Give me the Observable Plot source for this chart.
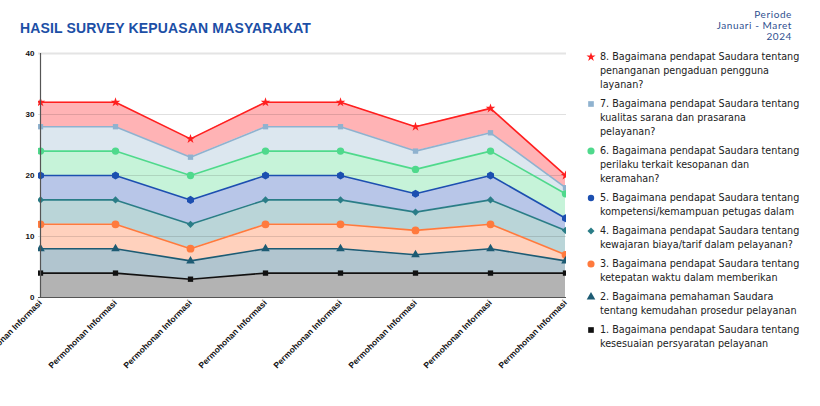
<!DOCTYPE html>
<html>
<head>
<meta charset="utf-8">
<script src="https://cdn.jsdelivr.net/npm/d3@7"></script>
<script src="https://cdn.jsdelivr.net/npm/@observablehq/plot@0.6"></script>
<style>
  html, body { margin: 0; padding: 0; background: #fff; }
  body { width: 820px; height: 406px; position: relative; overflow: hidden; }
  #title { position: absolute; left: 20px; top: 20px; font: bold 14px "Liberation Sans", Arial, sans-serif; color: #1c4fa6; letter-spacing: 0.15px; white-space: nowrap; }
  #period { position: absolute; right: 28px; top: 9px; text-align: right; font: 10px Lato, "Open Sans", sans-serif; letter-spacing: 0.6px; line-height: 11px; color: #2f4f8f; }
  #chart { position: absolute; left: 0; top: 40px; }
  #chart svg { overflow: visible; }
  #legend { position: absolute; left: 586px; top: 50px; font: 10.7px "DejaVu Sans Condensed", "DejaVu Sans", sans-serif; color: #222; }
  .item { position: relative; padding-left: 14px; line-height: 14px; margin-bottom: 5px; white-space: nowrap; }
  .item svg { position: absolute; left: 0; top: 2px; }
</style>
</head>
<body>
<div id="title"></div>
<div id="period"></div>
<div id="chart"></div>
<div id="legend"></div>
<script>
// ---- data ----
const titleText = "HASIL SURVEY KEPUASAN MASYARAKAT";
const periodLines = ["Periode", "Januari - Maret", "2024"];
const categories = ["Permohonan Informasi", "Permohonan Informasi", "Permohonan Informasi", "Permohonan Informasi",
                    "Permohonan Informasi", "Permohonan Informasi", "Permohonan Informasi", "Permohonan Informasi"];
const yTicks = [0, 10, 20, 30, 40];
const s1 = [4, 4, 3, 4, 4, 4, 4, 4];
const s2 = [4, 4, 3, 4, 4, 3, 4, 2];
const s3 = [4, 4, 2, 4, 4, 4, 4, 1];
const s4 = [4, 4, 4, 4, 4, 3, 4, 4];
const s5 = [4, 4, 4, 4, 4, 3, 4, 2];
const s6 = [4, 4, 4, 4, 4, 4, 4, 4];
const s7 = [4, 4, 3, 4, 4, 3, 3, 1];
const s8 = [4, 4, 3, 4, 4, 4, 4, 2];
const seriesValues = [s1, s2, s3, s4, s5, s6, s7, s8];
const seriesNames = ["S1", "S2", "S3", "S4", "S5", "S6", "S7", "S8"];
const legendLines = [
  ["1. Bagaimana pendapat Saudara tentang", "kesesuaian persyaratan pelayanan"],
  ["2. Bagaimana pemahaman Saudara", "tentang kemudahan prosedur pelayanan"],
  ["3. Bagaimana pendapat Saudara tentang", "ketepatan waktu dalam memberikan"],
  ["4. Bagaimana pendapat Saudara tentang", "kewajaran biaya/tarif dalam pelayanan?"],
  ["5. Bagaimana pendapat Saudara tentang", "kompetensi/kemampuan petugas dalam"],
  ["6. Bagaimana pendapat Saudara tentang", "perilaku terkait kesopanan dan", "keramahan?"],
  ["7. Bagaimana pendapat Saudara tentang", "kualitas sarana dan prasarana", "pelayanan?"],
  ["8. Bagaimana pendapat Saudara tentang", "penanganan pengaduan pengguna", "layanan?"]
];
const lineColors = ["#111111", "#1d5b73", "#ff7a3d", "#2a7d87", "#1c4fb0", "#4fd98c", "#8fb2cf", "#ff1f1f"];
const fillColors = ["#b3b3b3", "#b1c5cf", "#ffd1bd", "#bad5d8", "#b8c6e8", "#c6f3d9", "#dce7ef", "#ffb3b5"];
const symbols = ["square", "triangle", "circle", "diamond2", "hexagon", "circle", "square", "star"];
const radii = [3.0, 3.2, 3.9, 3.3, 3.5, 3.7, 3.0, 3.0];

// ---- build ----
document.getElementById("title").textContent = titleText;
document.getElementById("period").innerHTML = periodLines.join("<br>");

const data = [];
seriesNames.forEach((s, k) => {
  seriesValues[k].forEach((v, i) => data.push({i, v, s, fill: fillColors[k], line: lineColors[k], r: radii[k]}));
});

const chart = Plot.plot({
  width: 580,
  height: 340,
  marginTop: 13,
  marginBottom: 83,
  marginLeft: 38,
  marginRight: 14,
  x: {type: "point", domain: d3.range(categories.length), padding: 0, label: null},
  y: {domain: [0, 40], label: null},
  color: {type: "identity"},
  r: {type: "identity"},
  symbol: {domain: seriesNames, range: symbols},
  marks: [
    Plot.areaY(data, {x: "i", y: "v", z: "s", fill: "fill", clip: true}),
    Plot.ruleY([10, 20, 30], {stroke: "#000", strokeOpacity: 0.12}),
    Plot.ruleY([40], {stroke: "#e4e4e4", strokeWidth: 2}),
    Plot.lineY(data, Plot.stackY2({x: "i", y: "v", z: "s", stroke: "line", strokeWidth: 1.6, clip: true})),
    Plot.dot(data, Plot.stackY2({x: "i", y: "v", z: "s", fill: "line", symbol: "s", r: "r", clip: true})),
    Plot.ruleY([0], {stroke: "#555", strokeWidth: 1.2}),
    Plot.ruleX([0], {y1: 0, y2: 40, stroke: "#555", strokeWidth: 1.2}),
    Plot.axisY({ticks: yTicks, tickSize: 0, tickPadding: 4, fontSize: 8, fontWeight: "bold", fill: "#111", label: null}),
    Plot.axisX({tickSize: 0, tickPadding: 4, tickRotate: -45, fontSize: 8.5, fontWeight: "bold", fill: "#111", label: null,
                tickFormat: i => categories[i]})
  ],
  style: {fontFamily: "'Liberation Sans', Arial, sans-serif", background: "transparent"}
});
document.getElementById("chart").appendChild(chart);

// legend (top item = last series)
const legend = document.getElementById("legend");
const symMap = {square: d3.symbolSquare, triangle: d3.symbolTriangle, circle: d3.symbolCircle,
                diamond2: d3.symbolDiamond2, hexagon: d3.symbolCircle, star: d3.symbolStar};
for (let k = seriesNames.length - 1; k >= 0; k--) {
  const div = document.createElement("div");
  div.className = "item";
  const size = symbols[k] === "star" ? 26 : symbols[k] === "circle" ? 40 : 32;
  const path = d3.symbol(symMap[symbols[k]] || d3.symbolCircle, size)();
  div.innerHTML = `<svg width="10" height="10"><path transform="translate(5,5)" d="${path}" fill="${lineColors[k]}"/></svg>` + legendLines[k].join("<br>");
  legend.appendChild(div);
}
</script>
</body>
</html>
